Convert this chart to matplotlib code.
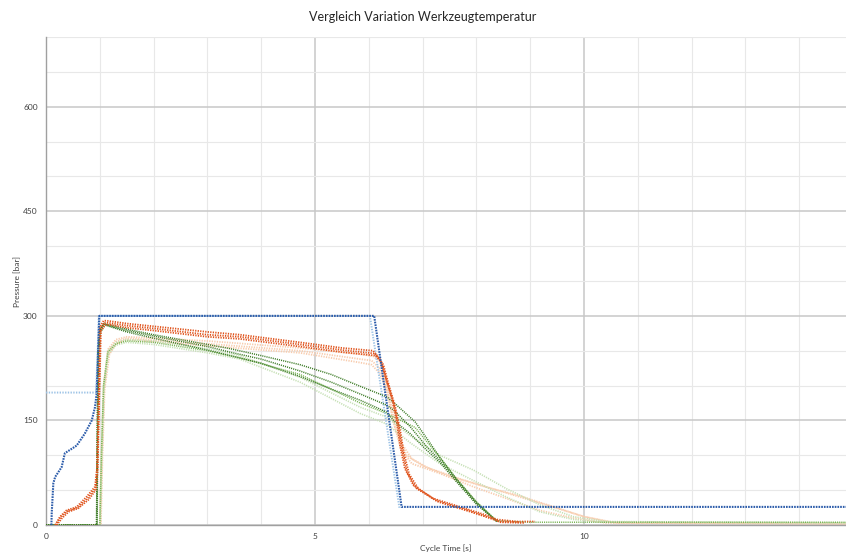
import matplotlib
matplotlib.use("Agg")
import matplotlib.pyplot as plt
from matplotlib.ticker import MultipleLocator

plt.rcParams['font.family'] = ['Lato', 'DejaVu Sans']

# ---------------- data ----------------
title = "Vergleich Variation Werkzeugtemperatur"
x_label = "Cycle Time [s]"
y_label = "Pressure [bar]"
x_ticks = [0, 5, 10]
y_ticks = [0, 150, 300, 450, 600]

# machine pressure (dark blue)
blue_x = [0.10, 0.106, 0.136, 0.17, 0.29, 0.35, 0.57, 0.72, 0.85, 0.91, 0.94, 0.97, 0.99, 6.10, 6.61, 14.87]
blue_y = [0, 17, 60, 69, 83, 103, 114, 131, 150, 169, 188, 255, 300, 300, 26, 26]

# setpoint (light blue)
lblue_x = [0.0, 0.93, 0.96, 0.98, 6.02, 6.57]
lblue_y = [190, 190, 250, 300, 300, 24]

# dark orange runs
dor1_x = [0.17, 0.26, 0.38, 0.57, 0.76, 0.91, 0.95, 0.97, 1.00, 1.07, 1.13, 1.5, 2.0, 3.0, 3.6, 4.72, 5.5, 6.08, 6.21, 6.30, 6.43, 6.52, 6.58, 6.67, 6.83, 7.2, 7.7, 8.19, 8.38, 8.75, 9.09]
dor1_y = [0, 12, 21, 26, 41, 55, 83, 160, 284, 293, 293, 289, 285, 277, 273, 262, 254, 250, 238, 214, 181, 148, 114, 81, 57, 38, 26, 14, 8, 5, 5]
dor2_x = [0.18, 0.27, 0.40, 0.59, 0.78, 0.92, 0.95, 0.98, 1.01, 1.08, 1.15, 1.5, 2.0, 3.0, 3.6, 4.72, 5.5, 6.11, 6.24, 6.33, 6.46, 6.55, 6.62, 6.71, 6.88, 7.25, 7.8, 8.25, 8.42, 8.8]
dor2_y = [0, 11, 20, 25, 39, 53, 80, 160, 282, 290, 290, 286, 282, 273, 270, 259, 251, 246, 233, 208, 175, 142, 108, 76, 53, 35, 22, 10, 5, 4]
dor3_x = [0.20, 0.30, 0.42, 0.60, 0.80, 0.93, 0.96, 0.98, 1.02, 1.10, 1.2, 1.5, 2.0, 3.0, 3.6, 4.72, 5.5, 6.13, 6.27, 6.36, 6.49, 6.58, 6.65, 6.75, 6.93, 7.3, 7.85, 8.3, 8.45, 8.9]
dor3_y = [0, 10, 19, 24, 37, 51, 78, 150, 278, 287, 287, 283, 279, 270, 267, 256, 248, 243, 230, 204, 170, 137, 104, 73, 51, 33, 20, 9, 4, 3]

# dark green runs
dgr1_x = [0.0, 0.94, 0.95, 0.97, 1.00, 1.08, 1.5, 2.0, 2.5, 3.0, 3.42, 4.0, 4.72, 5.3, 5.84, 6.33, 6.46, 6.86, 7.08, 7.32, 7.63, 8.0, 8.38]
dgr1_y = [0, 0, 120, 250, 280, 289, 281, 273, 266, 259, 253, 243, 230, 216, 199, 184, 176, 148, 124, 97, 66, 33, 5]
dgr2_x = [0.0, 0.94, 0.95, 0.97, 1.00, 1.08, 1.5, 2.0, 3.0, 3.42, 4.0, 4.72, 5.3, 5.84, 6.33, 6.46, 6.77, 7.08, 7.32, 7.63, 8.0, 8.38]
dgr2_y = [0, 0, 120, 248, 278, 288, 279, 271, 256, 248, 238, 221, 205, 188, 172, 165, 141, 112, 93, 64, 31, 5]
dgr3_x = [0.0, 0.95, 0.96, 0.98, 1.01, 1.09, 1.5, 2.0, 3.0, 3.42, 4.0, 4.72, 5.3, 5.84, 6.33, 6.46, 6.77, 7.08, 7.32, 7.63, 8.0, 8.38]
dgr3_y = [0, 0, 120, 245, 276, 287, 277, 268, 251, 243, 232, 213, 195, 179, 162, 150, 131, 107, 90, 62, 30, 5]

# light green runs
lgr1_x = [0.0, 1.00, 1.03, 1.07, 1.15, 1.3, 1.5, 2.0, 3.0, 3.6, 4.72, 5.84, 6.33, 6.77, 7.32, 7.94, 8.56, 9.18, 9.8, 10.42, 14.87]
lgr1_y = [0, 0, 100, 200, 250, 262, 266, 264, 253, 243, 212, 169, 155, 128, 100, 79, 52, 29, 12, 5, 3]
lgr2_x = [0.0, 1.01, 1.04, 1.08, 1.16, 1.3, 1.5, 2.0, 3.0, 3.6, 4.72, 5.84, 6.33, 6.77, 7.32, 7.94, 8.56, 9.18, 9.8, 10.4, 14.87]
lgr2_y = [0, 0, 100, 195, 245, 258, 262, 259, 247, 238, 205, 160, 145, 118, 88, 64, 40, 19, 8, 4, 3]
mgr_x = [0.0, 1.00, 1.03, 1.07, 1.15, 1.3, 1.5, 2.0, 3.0, 3.6, 4.72, 5.84, 6.33, 6.86, 7.32, 7.63, 8.0, 8.38, 9.0, 14.87]
mgr_y = [0, 0, 100, 200, 248, 260, 264, 262, 250, 240, 216, 175, 160, 140, 97, 66, 33, 6, 4, 4]

# light orange runs
lor1_x = [0.0, 1.00, 1.03, 1.07, 1.15, 1.3, 1.5, 2.0, 3.0, 4.72, 5.84, 6.08, 6.2, 6.3, 6.45, 6.6, 6.8, 7.1, 7.7, 8.3, 8.9, 9.5, 10.0, 10.5, 14.87]
lor1_y = [0, 0, 100, 200, 252, 266, 270, 268, 264, 254, 245, 242, 235, 214, 160, 118, 95, 82, 66, 52, 38, 24, 12, 4, 2]
lor2_x = [0.0, 1.01, 1.04, 1.08, 1.16, 1.3, 1.5, 2.0, 3.0, 4.72, 5.84, 6.05, 6.2, 6.3, 6.45, 6.6, 6.8, 7.32, 7.94, 8.56, 9.18, 9.8, 10.4, 14.87]
lor2_y = [0, 0, 100, 198, 248, 263, 268, 265, 260, 250, 238, 236, 225, 205, 150, 108, 88, 74, 55, 38, 21, 10, 3, 2]
lor3_x = [0.0, 1.02, 1.05, 1.09, 1.18, 1.3, 1.5, 2.0, 3.0, 4.72, 5.84, 6.05, 6.2, 6.35, 6.5, 6.7, 7.0, 7.5, 8.2, 8.8, 9.4, 10.0, 10.6, 14.87]
lor3_y = [0, 0, 100, 195, 245, 260, 266, 263, 257, 247, 233, 230, 218, 190, 135, 100, 85, 70, 54, 42, 27, 12, 3, 2]

# ---------------- styling ----------------
C_BLUE = "#2c5caa"
C_LBLUE = "#9dc3e6"
C_DOR = "#e0531c"
C_LOR = "#f8ccae"
C_DGR = "#3b7a25"
C_LGR = "#c5e0b4"
C_MGR = "#78b454"

fig = plt.figure(figsize=(8.46, 5.54), dpi=100)
ax = fig.add_axes([0.0544, 0.0523, 0.9456, 0.8809])

ax.set_xlim(0, 14.87)
ax.set_ylim(0, 700)

ax.xaxis.set_minor_locator(MultipleLocator(1))
ax.yaxis.set_minor_locator(MultipleLocator(50))
ax.set_xticks(x_ticks)
ax.set_yticks(y_ticks)
ax.grid(which='major', color='#c8c8c8', lw=1.1, zorder=0)
ax.grid(which='minor', color='#e8e8e8', lw=0.8, zorder=0)
ax.set_axisbelow(True)
ax.tick_params(which='both', length=0, labelsize=6, colors='#404040', pad=6)

for s in ['top', 'right']:
    ax.spines[s].set_visible(False)
ax.spines['left'].set_color('#a0a0a0')
ax.spines['left'].set_linewidth(1.0)
ax.spines['bottom'].set_color('#a0a0a0')
ax.spines['bottom'].set_linewidth(1.0)

dot = (0, (0.7, 0.7))

def draw(x, y, color, lw=1.4, z=2, ls=dot):
    ax.plot(x, y, color=color, lw=lw, linestyle=ls, zorder=z)

for xs, ys in [(lor1_x, lor1_y), (lor2_x, lor2_y), (lor3_x, lor3_y)]:
    draw(xs, ys, C_LOR, lw=1.3, z=2)
for xs, ys in [(lgr1_x, lgr1_y), (lgr2_x, lgr2_y)]:
    draw(xs, ys, C_LGR, lw=1.2, z=2)
draw(mgr_x, mgr_y, C_MGR, lw=1.1, z=3)
draw(lblue_x, lblue_y, C_LBLUE, lw=1.4, z=3)
for xs, ys in [(dgr1_x, dgr1_y), (dgr2_x, dgr2_y), (dgr3_x, dgr3_y)]:
    draw(xs, ys, C_DGR, lw=1.1, z=4)
for xs, ys in [(dor1_x, dor1_y), (dor2_x, dor2_y), (dor3_x, dor3_y)]:
    draw(xs, ys, C_DOR, lw=1.3, z=5)
draw(blue_x, blue_y, C_BLUE, lw=1.5, z=6, ls=(0, (0.8, 0.5)))

fig.text(0.5, 0.969, title, ha='center', va='center', fontsize=9, color='#262626')
ax.set_xlabel(x_label, fontsize=6, color='#404040', labelpad=3)
ax.set_ylabel(y_label, fontsize=6, color='#404040', labelpad=1)

fig.savefig("out.png", dpi=100)
